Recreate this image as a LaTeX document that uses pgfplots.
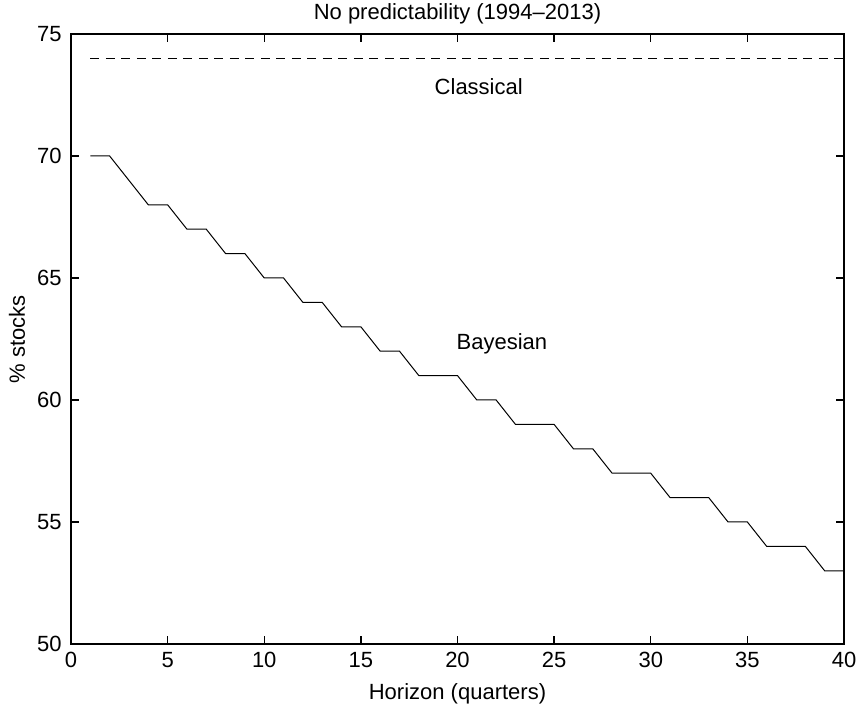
\documentclass[border=0pt]{standalone}
\usepackage{fontspec}
\setmainfont{Liberation Sans}
\usepackage{pgfplots}
\pgfplotsset{compat=1.18}
\begin{document}
\fontsize{11}{13}\selectfont
\begin{tikzpicture}
\path[use as bounding box] (-35.5pt,-31pt) rectangle (392.5pt,322pt);
\begin{axis}[
  at={(0,0)}, anchor=south west,
  scale only axis,
  width=386.5pt, height=305pt,
  xmin=0, xmax=40, ymin=50, ymax=75,
  xtick={0,5,...,40}, ytick={50,55,...,75},
  /pgf/number format/assume math mode=true,
  tick align=inside,
  major tick length=4pt,
  axis line style={line width=0.9pt},
  every tick/.style={line width=0.7pt, black},
  xticklabel style={anchor=base, yshift=-12pt, inner sep=0pt},
  yticklabel style={anchor=east, xshift=-4.5pt, inner sep=0pt},
  title={No predictability (1994--2013)},
  title style={at={(axis description cs:0.5,1)}, anchor=base, yshift=1pt, inner sep=0pt},
  xlabel={Horizon (quarters)},
  xlabel style={at={(axis description cs:0.5,0)}, anchor=center, yshift=-25pt},
  ylabel={\% stocks},
  ylabel style={at={(axis description cs:-0.0699,0.5)}, anchor=center, rotate=0},
  clip=false,
]
\addplot[black, line width=0.5pt, dash pattern=on 4.5pt off 3.25pt] coordinates {(1,74) (40,74)};
\addplot[black, line width=0.5pt] coordinates {
(1,70) (2,70) (3,69) (4,68) (5,68) (6,67) (7,67) (8,66) (9,66) (10,65)
(11,65) (12,64) (13,64) (14,63) (15,63) (16,62) (17,62) (18,61) (19,61) (20,61)
(21,60) (22,60) (23,59) (24,59) (25,59) (26,58) (27,58) (28,57) (29,57) (30,57)
(31,56) (32,56) (33,56) (34,55) (35,55) (36,54) (37,54) (38,54) (39,53) (40,53)
};
\node at (axis cs:21.1,72.83) {Classical};
\node at (axis cs:22.3,62.3) {Bayesian};
\end{axis}
\end{tikzpicture}
\end{document}
